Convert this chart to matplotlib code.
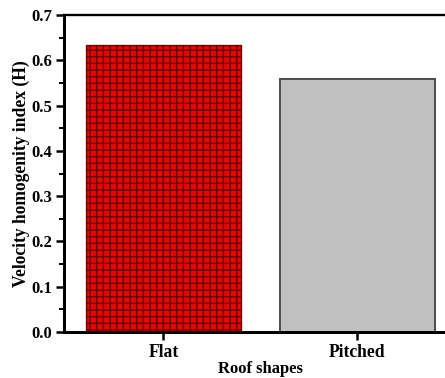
import matplotlib
matplotlib.use("Agg")
import matplotlib.pyplot as plt
from matplotlib.ticker import MultipleLocator

# Data
categories = ["Flat", "Pitched"]
values = [0.635, 0.56]
yticks = [0.0, 0.1, 0.2, 0.3, 0.4, 0.5, 0.6, 0.7]

plt.rcParams["font.family"] = ["Liberation Serif", "DejaVu Serif"]
plt.rcParams["font.weight"] = "bold"
plt.rcParams["hatch.linewidth"] = 0.9

DPI = 120
fig = plt.figure(figsize=(445 / DPI, 378 / DPI), dpi=DPI)
ax = fig.add_axes([0.1438, 0.1217, 0.883, 0.838])

x = list(range(len(categories)))
bars = ax.bar(x, values, width=0.8)
bars[0].set_facecolor("#e60808")
bars[0].set_edgecolor("#6a0000")
bars[0].set_hatch("+++")
bars[0].set_linewidth(0.8)
bars[1].set_facecolor("#c0c0c0")
bars[1].set_edgecolor("#505050")
bars[1].set_linewidth(1.2)

ax.set_xlim(-0.513, 1.513)
ax.set_ylim(0, 0.7)
ax.set_xticks(x)
ax.set_xticklabels(categories, fontsize=10.5, fontweight="bold")
ax.yaxis.set_minor_locator(MultipleLocator(0.05))
ax.set_yticks(yticks)
ax.set_yticklabels([f"{v:.1f}" for v in yticks], fontsize=10, fontweight="bold")

ax.tick_params(axis="both", which="major", direction="out", length=5, width=1.5, pad=2)
ax.tick_params(axis="y", which="minor", direction="out", length=3, width=1.2)

for side in ["left", "bottom"]:
    ax.spines[side].set_linewidth(1.8)
ax.spines["top"].set_linewidth(1.4)
ax.spines["right"].set_linewidth(1.4)

ax.set_xlabel("Roof shapes", fontsize=10, fontweight="bold", labelpad=0)
ax.set_ylabel("Velocity homogenity index (H)", fontsize=10.5, fontweight="bold", labelpad=1)

fig.savefig("out.png", dpi=DPI)
